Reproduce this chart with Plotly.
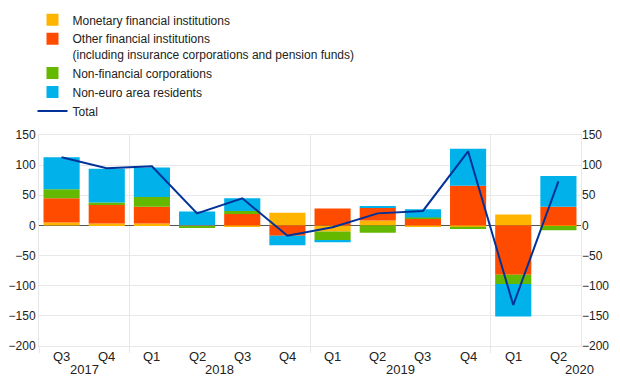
import plotly.graph_objects as go

quarters = ["Q3", "Q4", "Q1", "Q2", "Q3", "Q4", "Q1", "Q2", "Q3", "Q4", "Q1", "Q2"]
years = ["2017", "2018", "2019", "2020"]
year_pos = [0.5, 3.5, 7.5, 11.47]

mfi = [5, 3, 3, 0, -2, 21, -10, 8, -2, -2, 18, -1]
ofi = [40, 32, 28, -1, 19, -17, 28, 21, 11, 66, -82, 31]
nfc = [15, 3, 16, -2, 5, 0, -15, -12, 2, -4, -15, -7]
non_euro = [53, 56, 49, 23, 21, -16, -3, 3, 14, 61, -54, 51]
total = [113, 95, 98, 20, 45, -17, -3, 20, 24, 123, -132, 73]

x = list(range(len(quarters)))
FONT = "Liberation Sans, Arial, sans-serif"
GRID = "#e8e8e8"

fig = go.Figure()
series = [
    ("Monetary financial institutions", mfi, "#FFB400"),
    ("Other financial institutions<br>(including insurance corporations and pension funds)", ofi, "#FF4B00"),
    ("Non-financial corporations", nfc, "#65B800"),
    ("Non-euro area residents", non_euro, "#00B1EA"),
]
for name, vals, col in series:
    fig.add_trace(go.Bar(x=x, y=vals, name=name, marker=dict(color=col, line=dict(width=0)),
                         width=0.8))
fig.add_trace(go.Scatter(x=x, y=total, name="Total", mode="lines",
                         line=dict(color="#003299", width=2), yaxis="y2"))

annotations = []
for i, q in enumerate(quarters):
    annotations.append(dict(x=i, y=-0.05, xref="x", yref="paper", text=q, showarrow=False,
                            xanchor="center", yanchor="middle", font=dict(size=13, color="#222")))
for yv, pos in zip(years, year_pos):
    annotations.append(dict(x=pos, y=-0.11, xref="x", yref="paper", text=yv, showarrow=False,
                            xanchor="center", yanchor="middle", font=dict(size=13, color="#222")))

fig.update_layout(
    width=620, height=387,
    margin=dict(l=39, r=39, t=135, b=41, autoexpand=False),
    paper_bgcolor="white", plot_bgcolor="white",
    font=dict(family=FONT, size=12, color="#222"),
    barmode="relative",
    bargap=0.2,
    showlegend=True,
    legend=dict(x=-0.012, y=0.986, xref="paper", yref="container", xanchor="left", yanchor="top",
                valign="top", font=dict(size=12, color="#222"), tracegroupgap=0,
                bgcolor="rgba(0,0,0,0)", itemwidth=30),
    xaxis=dict(range=[-0.5, 11.5], tickvals=[-0.5, 1.5, 5.5, 9.5], showticklabels=False,
               ticks="outside", ticklen=6, tickcolor=GRID, showgrid=True, gridcolor=GRID,
               showline=True, linecolor=GRID, mirror=True, zeroline=False),
    yaxis=dict(range=[-200, 150], dtick=50, tick0=0, showgrid=True, gridcolor=GRID,
               zeroline=True, zerolinecolor="#555", zerolinewidth=1,
               ticks="", showline=True, linecolor=GRID, mirror=True,
               tickfont=dict(size=12, color="#222")),
    yaxis2=dict(range=[-200, 150], dtick=50, tick0=0, overlaying="y", side="right",
                showgrid=False, zeroline=False, ticks="", tickfont=dict(size=12, color="#222")),
    annotations=annotations,
)

fig.write_html("out.html", config={"displayModeBar": False},
               post_script="document.body.style.margin='0px';")
